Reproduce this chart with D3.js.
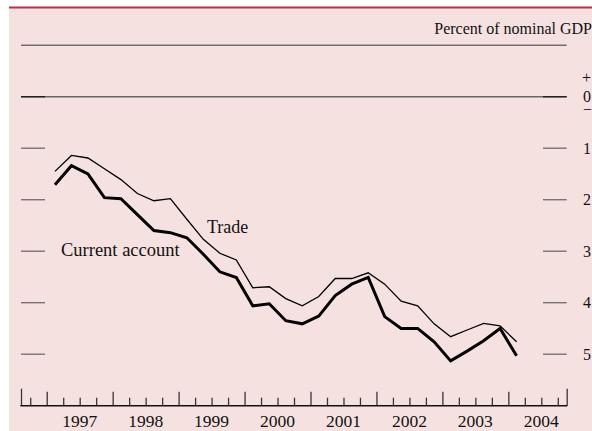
<!DOCTYPE html>
<html>
<head>
<meta charset="utf-8">
<script src="https://cdn.jsdelivr.net/npm/d3@7"></script>
<style>
  body { margin: 0; background: #fff; }
  svg { display: block; font-family: "Liberation Serif", "Times New Roman", serif; }
</style>
</head>
<body>
<svg id="paper"></svg>
<script>
// quarterly data, 1997:Q1 - 2004:Q1 (percent of nominal GDP)
const startYear = 1997;
const currentAccount = [-1.71, -1.34, -1.50, -1.96, -1.98, -2.29, -2.60, -2.64, -2.74, -3.06,
  -3.40, -3.51, -4.06, -4.02, -4.35, -4.41, -4.26, -3.86, -3.64, -3.51,
  -4.27, -4.50, -4.50, -4.76, -5.13, -4.94, -4.74, -4.50, -5.03];
const trade = [-1.45, -1.14, -1.19, -1.40, -1.61, -1.88, -2.02, -1.98, -2.38, -2.77,
  -3.04, -3.17, -3.71, -3.69, -3.92, -4.06, -3.88, -3.53, -3.53, -3.42,
  -3.64, -3.97, -4.06, -4.41, -4.66, -4.53, -4.40, -4.45, -4.76];
const years = [1997, 1998, 1999, 2000, 2001, 2002, 2003, 2004];
const yTicks = [-1, -2, -3, -4, -5];

// set the dimensions of the diagram
var width = 592, height = 431;

var svg = d3.select("#paper")
  .attr("width", width)
  .attr("height", height);

// background panel and red rule on top
svg.append("rect")
  .attr("x", 9).attr("y", 8)
  .attr("width", width - 9).attr("height", height - 8)
  .attr("fill", "#f5e2e0");
svg.append("line")
  .attr("x1", 9).attr("x2", width)
  .attr("y1", 7.5).attr("y2", 7.5)
  .attr("stroke", "#b83347").attr("stroke-width", 2);

var x = d3.scaleLinear().domain([1996.61, 2004.885]).range([21, 566.7]);
var y = d3.scaleLinear().domain([1, -6]).range([45.2, 405.7]);

var toYear = (d, i) => startYear + (i + 0.5) / 4;

// top line and zero line
svg.append("line")
  .attr("x1", x.range()[0]).attr("x2", x.range()[1])
  .attr("y1", y(1)).attr("y2", y(1))
  .attr("stroke", "#756d6c").attr("stroke-width", 1.4);
svg.append("line")
  .attr("x1", x.range()[0]).attr("x2", x.range()[1])
  .attr("y1", y(0)).attr("y2", y(0))
  .attr("stroke", "#6b6463").attr("stroke-width", 1.4);

// tick marks at both sides
var tickGroup = svg.append("g");
tickGroup.selectAll(".ltick")
  .data([0].concat(yTicks))
  .enter().append("line")
  .attr("x1", 21).attr("x2", 45)
  .attr("y1", d => y(d)).attr("y2", d => y(d))
  .attr("stroke", d => d === 0 ? "#222" : "#7a7372")
  .attr("stroke-width", 1.4);
tickGroup.selectAll(".rtick")
  .data([0].concat(yTicks))
  .enter().append("line")
  .attr("x1", 543).attr("x2", 566.7)
  .attr("y1", d => y(d)).attr("y2", d => y(d))
  .attr("stroke", d => d === 0 ? "#222" : "#7a7372")
  .attr("stroke-width", 1.4);

// right labels
svg.selectAll(".ylabel")
  .data([0].concat(yTicks))
  .enter().append("text")
  .attr("x", 583)
  .attr("y", d => y(d))
  .attr("dy", "0.34em")
  .attr("font-size", 16)
  .attr("fill", "#111")
  .text(d => Math.abs(d));
svg.append("text")
  .attr("x", 582).attr("y", y(0) - 14)
  .attr("font-size", 16).attr("fill", "#111")
  .text("+");
svg.append("text")
  .attr("x", 583).attr("y", y(0) + 18)
  .attr("font-size", 16).attr("fill", "#111")
  .text("\u2212");

svg.append("text")
  .attr("x", 592).attr("y", 34)
  .attr("text-anchor", "end")
  .attr("font-size", 16).attr("fill", "#111")
  .text("Percent of nominal GDP");

// x axis: quarter, year and edge ticks pointing up
var axisY = y(-6);
var quarters = d3.range(1996.75, 2004.8, 0.25).filter(q => q % 1 !== 0);
svg.append("g")
  .attr("transform", "translate(0," + axisY + ")")
  .call(d3.axisTop(x).tickValues(quarters).tickSize(8).tickFormat(""))
  .call(g => g.select(".domain").remove());
svg.append("g")
  .attr("transform", "translate(0," + axisY + ")")
  .call(d3.axisTop(x).tickValues(years).tickSize(14).tickFormat(""))
  .call(g => g.select(".domain").remove());
svg.append("g")
  .attr("transform", "translate(0," + axisY + ")")
  .call(d3.axisTop(x).tickValues(x.domain()).tickSize(17).tickFormat(""))
  .call(g => g.select(".domain").remove());
svg.selectAll(".tick line").attr("stroke", "#3a3535").attr("stroke-width", 1.3);
svg.append("line")
  .attr("x1", x.range()[0] - 0.6).attr("x2", x.range()[1] + 0.6)
  .attr("y1", axisY).attr("y2", axisY)
  .attr("stroke", "#111").attr("stroke-width", 1.5);

// year labels centred in each year
svg.selectAll(".year")
  .data(years)
  .enter().append("text")
  .attr("x", d => x(d + 0.5))
  .attr("y", 427)
  .attr("text-anchor", "middle")
  .attr("font-size", 17.5)
  .attr("fill", "#111")
  .text(d => d);

// the two series
var line = d3.line()
  .x((d, i) => x(toYear(d, i)))
  .y(d => y(d));

svg.append("path")
  .datum(trade)
  .attr("d", line)
  .attr("fill", "none")
  .attr("stroke", "#000")
  .attr("stroke-width", 1.3)
  .attr("stroke-linejoin", "miter");

svg.append("path")
  .datum(currentAccount)
  .attr("d", line)
  .attr("fill", "none")
  .attr("stroke", "#000")
  .attr("stroke-width", 3)
  .attr("stroke-linejoin", "miter");

// series labels
svg.append("text")
  .attr("x", 207).attr("y", 232.5)
  .attr("font-size", 18).attr("fill", "#111")
  .text("Trade");
svg.append("text")
  .attr("x", 61).attr("y", 256)
  .attr("font-size", 18.5).attr("fill", "#111")
  .text("Current account");
</script>
</body>
</html>
